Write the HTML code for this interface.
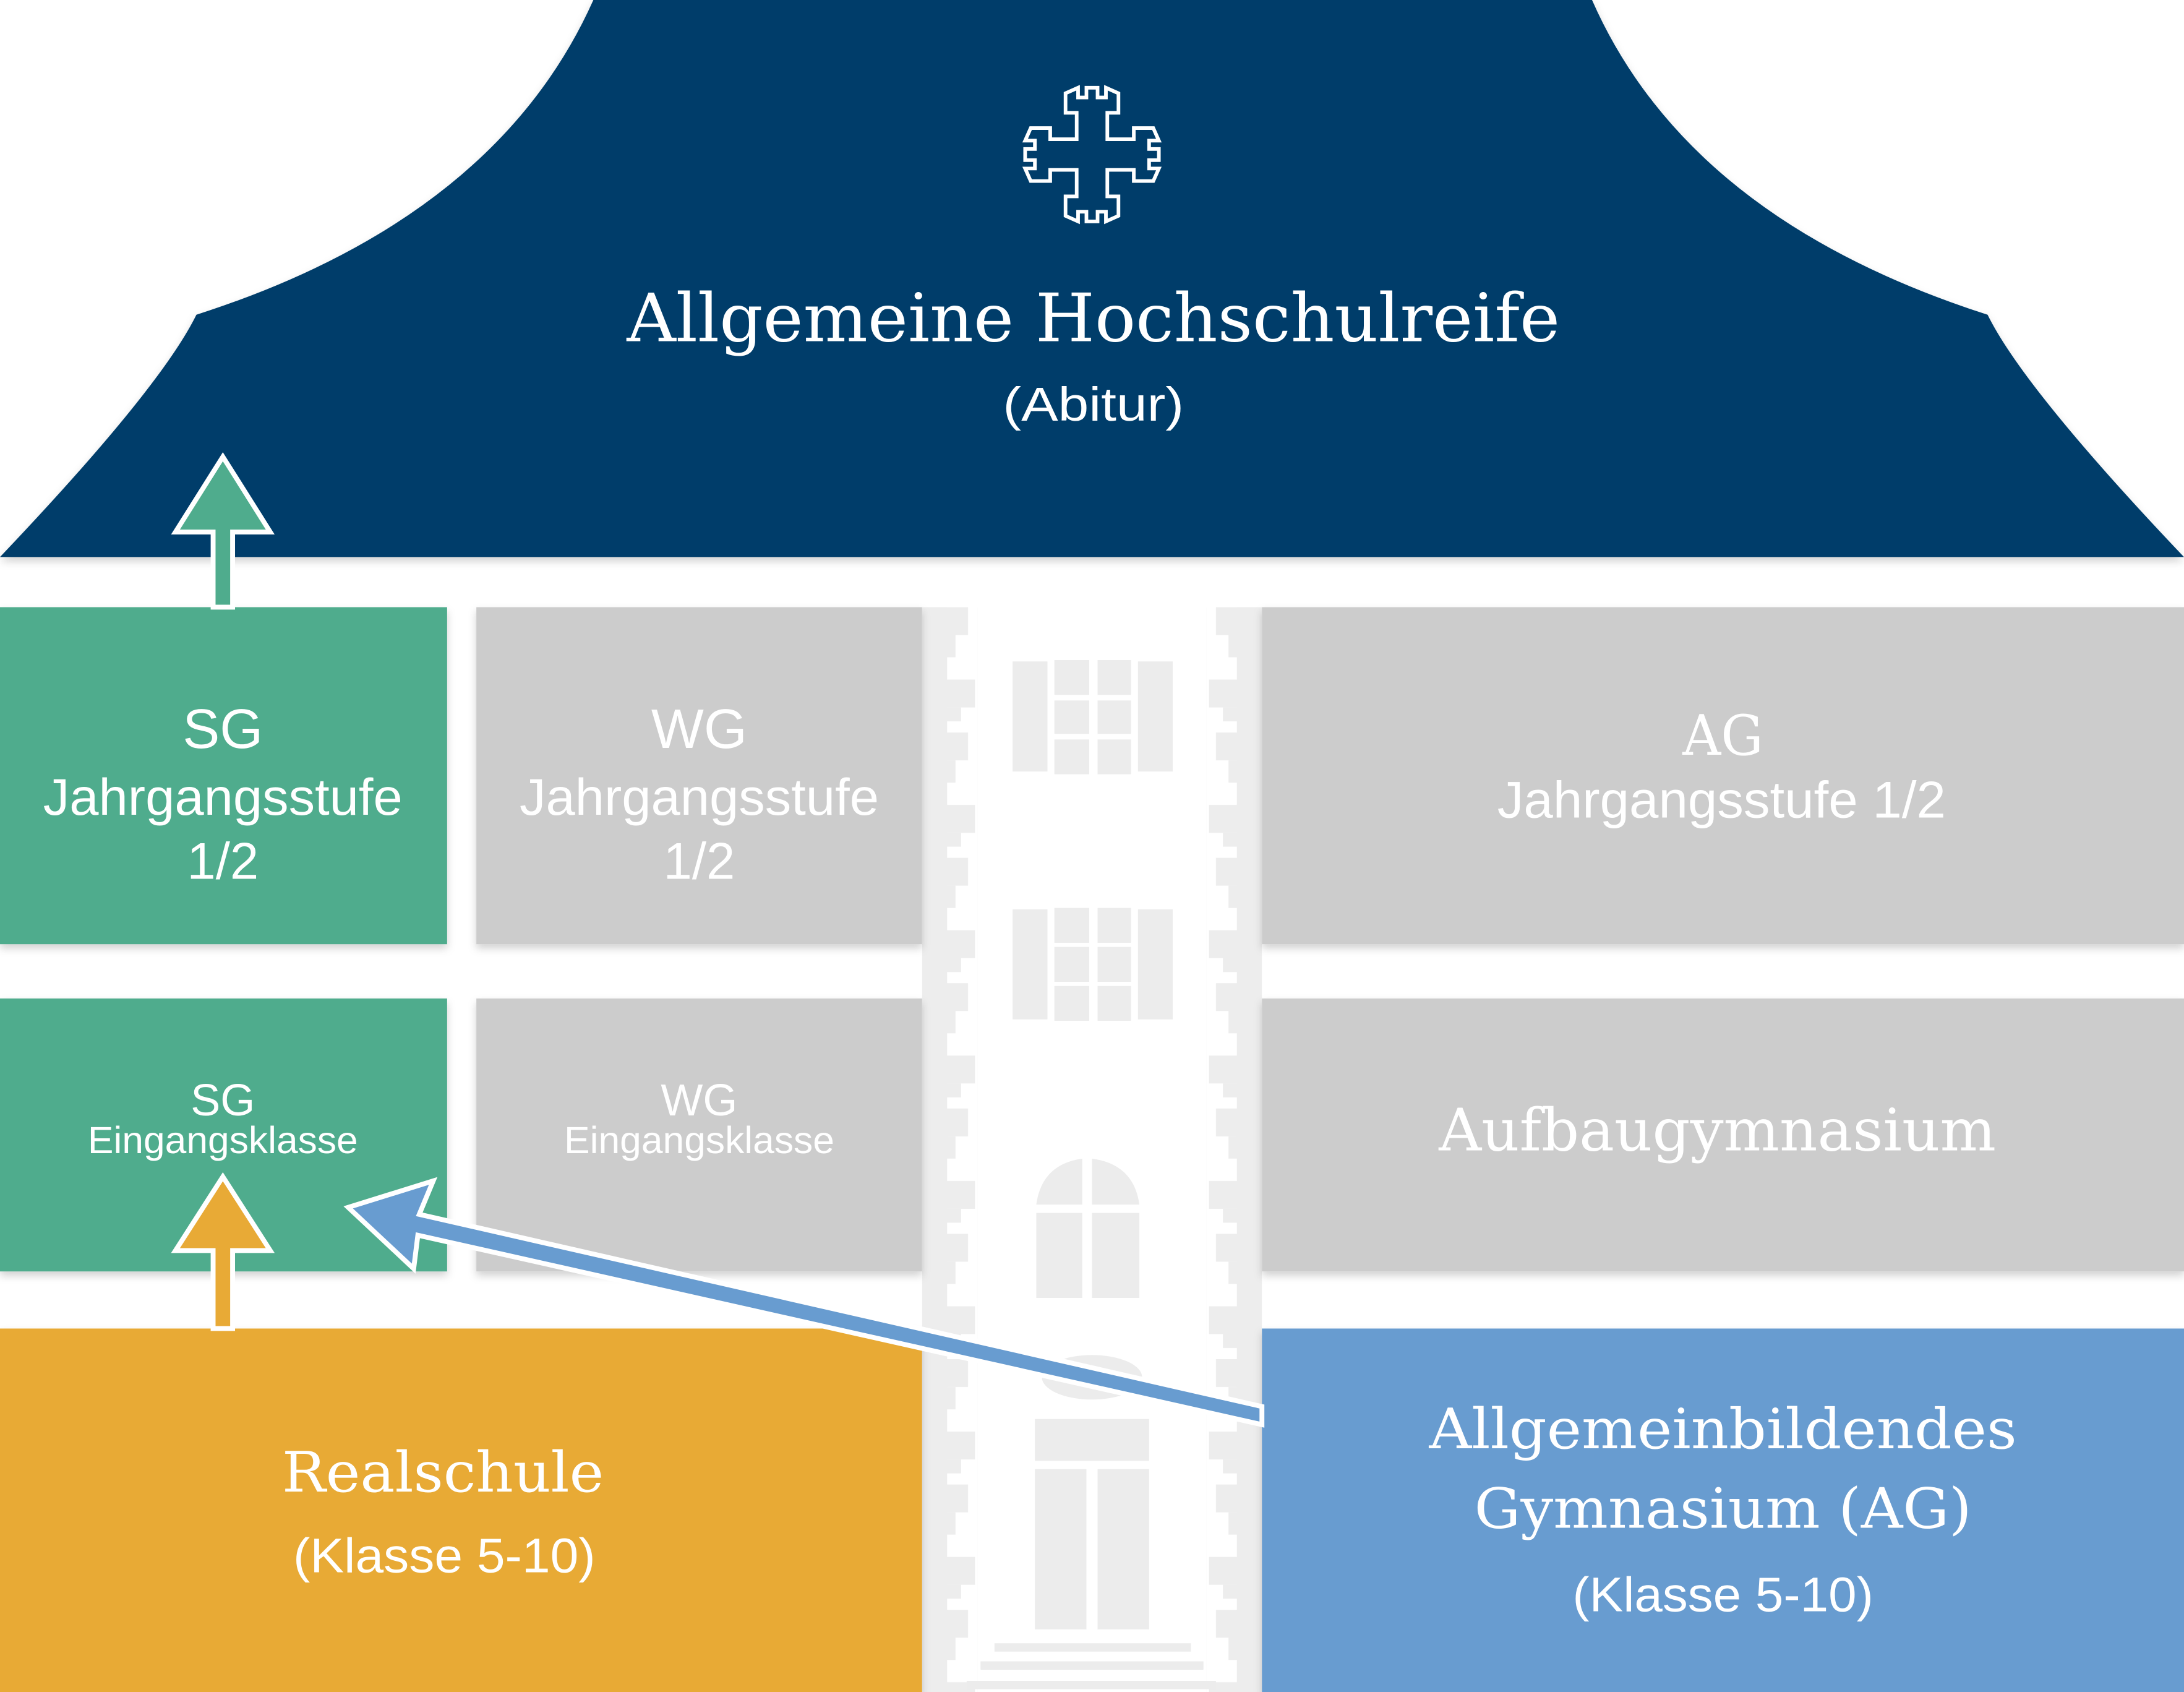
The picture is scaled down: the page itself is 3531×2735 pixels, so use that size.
<!DOCTYPE html>
<html><head><meta charset="utf-8"><style>
html,body{margin:0;padding:0;background:#fff;}
svg{display:block;}
.sf{font-family:"DejaVu Serif","Liberation Serif",serif;fill:#fff;}
.ss{font-family:"Liberation Sans",sans-serif;fill:#fff;}
</style></head><body>
<svg width="3531" height="2735" viewBox="0 0 1568 1215" preserveAspectRatio="none" xmlns="http://www.w3.org/2000/svg">
<defs>
<pattern id="nl" x="662" y="436" width="40" height="90" patternUnits="userSpaceOnUse">
<rect x="0" y="0" width="18" height="90" fill="#ededed"/>
<rect x="0" y="0" width="33" height="20" fill="#ededed"/>
<rect x="0" y="20" width="24" height="16" fill="#ededed"/>
<rect x="0" y="52" width="38" height="20" fill="#ededed"/>
<rect x="0" y="72" width="28" height="10" fill="#ededed"/>
</pattern>
<pattern id="nr" x="866" y="436" width="40" height="90" patternUnits="userSpaceOnUse">
<rect x="22" y="0" width="18" height="90" fill="#ededed"/>
<rect x="7" y="0" width="33" height="20" fill="#ededed"/>
<rect x="16" y="20" width="24" height="16" fill="#ededed"/>
<rect x="2" y="52" width="38" height="20" fill="#ededed"/>
<rect x="12" y="72" width="28" height="10" fill="#ededed"/>
</pattern>
<filter id="sh" x="-5%" y="-5%" width="110%" height="120%"><feDropShadow dx="0" dy="3" stdDeviation="3" flood-opacity="0.18"/></filter>
</defs>
<rect width="1568" height="1215" fill="#fff"/>
<!-- center column -->
<rect x="662" y="436" width="40" height="779" fill="url(#nl)"/>
<rect x="866" y="436" width="40" height="779" fill="url(#nr)"/>
<g fill="#ececec">
<rect x="727" y="475" width="25" height="79"/><rect x="817" y="475" width="25" height="79"/>
<rect x="757" y="474" width="25" height="25"/><rect x="788" y="474" width="24" height="25"/>
<rect x="757" y="503" width="25" height="24"/><rect x="788" y="503" width="24" height="24"/>
<rect x="757" y="531" width="25" height="25"/><rect x="788" y="531" width="24" height="25"/>
<rect x="727" y="653" width="25" height="79"/><rect x="817" y="653" width="25" height="79"/>
<rect x="757" y="652" width="25" height="25"/><rect x="788" y="652" width="24" height="25"/>
<rect x="757" y="680" width="25" height="25"/><rect x="788" y="680" width="24" height="25"/>
<rect x="757" y="708" width="25" height="25"/><rect x="788" y="708" width="24" height="25"/>
<path d="M744 865 Q748 836 777 832 L777 865 Z"/><path d="M784 832 Q814 836 818 865 L784 865 Z"/>
<rect x="744" y="871" width="33" height="61"/><rect x="784" y="871" width="34" height="61"/>
<ellipse cx="784" cy="989" rx="36" ry="16"/>
<rect x="743" y="1019" width="82" height="30"/>
<rect x="743" y="1055" width="37" height="115"/><rect x="788" y="1055" width="37" height="115"/>
<rect x="714" y="1180" width="141" height="6"/><rect x="704" y="1193" width="160" height="6"/><rect x="694" y="1207" width="179" height="6"/>
</g>
<!-- roof -->
<path d="M426 0 L1143 0 Q1212 157 1427 226 Q1453 279 1568 400 L0 400 Q115 279 141 226 Q356 157 426 0 Z" fill="#023d6a" filter="url(#sh)"/>
<path fill="none" stroke="#fff" stroke-width="2.6" transform="translate(784,111)" d="M-11 -11 L-11 -30 L-19 -30 L-19 -44 L-10 -48 L-10 -41 L-4 -41 L-4 -48 L4 -48 L4 -41 L10 -41 L10 -48 L19 -44 L19 -30 L11 -30 L11 -11 L30 -11 L30 -19 L44 -19 L48 -10 L41 -10 L41 -4 L48 -4 L48 4 L41 4 L41 10 L48 10 L44 19 L30 19 L30 11 L11 11 L11 30 L19 30 L19 44 L10 48 L10 41 L4 41 L4 48 L-4 48 L-4 41 L-10 41 L-10 48 L-19 44 L-19 30 L-11 30 L-11 11 L-30 11 L-30 19 L-44 19 L-48 10 L-41 10 L-41 4 L-48 4 L-48 -4 L-41 -4 L-41 -10 L-48 -10 L-44 -19 L-30 -19 L-30 -11 Z"/>
<text class="sf" x="785" y="245" font-size="48" text-anchor="middle" textLength="670" lengthAdjust="spacingAndGlyphs">Allgemeine Hochschulreife</text>
<text class="ss" x="785" y="302" font-size="34" text-anchor="middle" textLength="130" lengthAdjust="spacingAndGlyphs">(Abitur)</text>
<!-- boxes -->
<g filter="url(#sh)">
<rect x="0" y="436" width="321" height="242" fill="#4fac8d"/>
<rect x="342" y="436" width="320" height="242" fill="#cccccc"/>
<rect x="906" y="436" width="662" height="242" fill="#cccccc"/>
<rect x="0" y="717" width="321" height="196" fill="#4fac8d"/>
<rect x="342" y="717" width="320" height="196" fill="#cccccc"/>
<rect x="906" y="717" width="662" height="196" fill="#cccccc"/>
<rect x="0" y="954" width="662" height="261" fill="#e8aa36"/>
<rect x="906" y="954" width="662" height="261" fill="#689cd0"/>
</g>
<text class="ss" x="160" y="537" font-size="40" text-anchor="middle">SG</text>
<text class="ss" x="160" y="585" font-size="37" text-anchor="middle" textLength="258" lengthAdjust="spacingAndGlyphs">Jahrgangsstufe</text>
<text class="ss" x="160" y="631" font-size="37" text-anchor="middle">1/2</text>
<text class="ss" x="502" y="537" font-size="40" text-anchor="middle">WG</text>
<text class="ss" x="502" y="585" font-size="37" text-anchor="middle" textLength="258" lengthAdjust="spacingAndGlyphs">Jahrgangsstufe</text>
<text class="ss" x="502" y="631" font-size="37" text-anchor="middle">1/2</text>
<text class="sf" x="1237" y="542" font-size="40" text-anchor="middle" textLength="58" lengthAdjust="spacingAndGlyphs">AG</text>
<text class="ss" x="1236" y="587" font-size="37" text-anchor="middle" textLength="322" lengthAdjust="spacingAndGlyphs">Jahrgangsstufe 1/2</text>
<text class="ss" x="160" y="801" font-size="32" text-anchor="middle">SG</text>
<text class="ss" x="160" y="828" font-size="27" text-anchor="middle" textLength="194" lengthAdjust="spacingAndGlyphs">Eingangsklasse</text>
<text class="ss" x="502" y="801" font-size="32" text-anchor="middle">WG</text>
<text class="ss" x="502" y="828" font-size="27" text-anchor="middle" textLength="194" lengthAdjust="spacingAndGlyphs">Eingangsklasse</text>
<text class="sf" x="1233" y="826" font-size="42" text-anchor="middle" textLength="400" lengthAdjust="spacingAndGlyphs">Aufbaugymnasium</text>
<text class="sf" x="318" y="1071" font-size="40" text-anchor="middle" textLength="231" lengthAdjust="spacingAndGlyphs">Realschule</text>
<text class="ss" x="319" y="1129" font-size="35" text-anchor="middle" textLength="217" lengthAdjust="spacingAndGlyphs">(Klasse 5-10)</text>
<text class="sf" x="1237" y="1040" font-size="40" text-anchor="middle" textLength="422" lengthAdjust="spacingAndGlyphs">Allgemeinbildendes</text>
<text class="sf" x="1237" y="1097" font-size="40" text-anchor="middle" textLength="357" lengthAdjust="spacingAndGlyphs">Gymnasium (AG)</text>
<text class="ss" x="1237" y="1157" font-size="35" text-anchor="middle" textLength="216" lengthAdjust="spacingAndGlyphs">(Klasse 5-10)</text>
<!-- arrows -->
<path d="M153 436 L153 382 L126 382 L160 328 L194 382 L167 382 L167 436 Z" fill="#4fac8d" stroke="#fff" stroke-width="3.5"/>
<path d="M153 954 L153 898 L126 898 L160 845 L194 898 L167 898 L167 954 Z" fill="#e8aa36" stroke="#fff" stroke-width="3.5"/>
<path d="M906 1010 L301 872 L311 848 L250 867 L297 911 L300 887 L906 1023 Z" fill="#689cd0" stroke="#fff" stroke-width="3.5" stroke-linejoin="miter"/>
</svg>
</body></html>
